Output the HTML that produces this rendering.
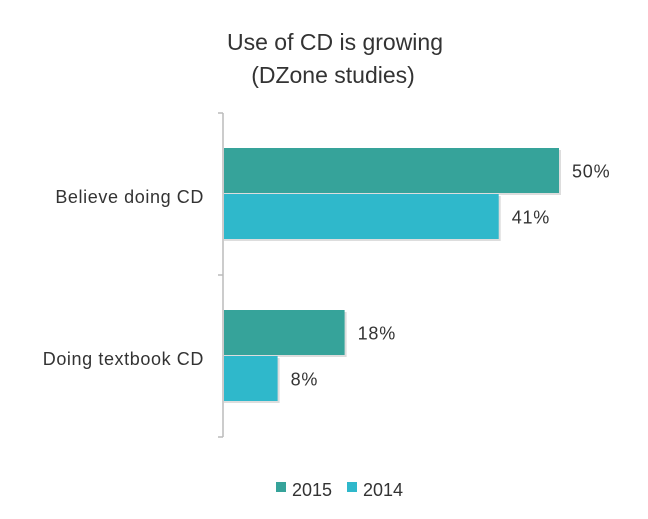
<!DOCTYPE html>
<html><head><meta charset="utf-8"><style>
body{margin:0;background:#fff;}
svg text{font-family:"Liberation Sans",sans-serif;fill:#333;}
</style></head><body>
<svg width="648" height="514">
<text x="335" y="50" text-anchor="middle" font-size="23">Use of CD is growing</text>
<text x="333" y="83" text-anchor="middle" font-size="23">(DZone studies)</text>
<g id="plot"></g>
<g>
<rect x="276" y="482" width="10" height="10" fill="#36a39a"/>
<text x="292" y="496" font-size="18">2015</text>
<rect x="347" y="482" width="10" height="10" fill="#2fb8cb"/>
<text x="363" y="496" font-size="18">2014</text>
</g>
</svg>
<script>
const categories=["Believe doing CD","Doing textbook CD"];
const series2015=[50,18];
const series2014=[41,8];
const seriesNames=["2015","2014"];
const colors=["#36a39a","#2fb8cb"];
const NS="http://www.w3.org/2000/svg";
const plotG=document.getElementById('plot');
const x0=224, pxPer=6.7, plotTop=113, bandH=162;
function xs(v){return x0+v*pxPer;}
function mk(t,a){const e=document.createElementNS(NS,t);for(const k in a)e.setAttribute(k,a[k]);plotG.appendChild(e);return e;}
let ax=mk('line',{x1:223,y1:plotTop,x2:223,y2:plotTop+bandH*2,stroke:'#bbb','stroke-width':1.5});


for(let i=0;i<=categories.length;i++){
 let t=mk('line',{x1:218,y1:plotTop+i*bandH,x2:223,y2:plotTop+i*bandH,stroke:'#bbb','stroke-width':1.5});
 
 
}
const allSeries=[series2015,series2014];
categories.forEach((c,i)=>{
 const bt=plotTop+i*bandH+35;
 let lab=mk('text',{x:204,y:bt+55,'text-anchor':'end','font-size':18,'letter-spacing':0.6});
 lab.textContent=c;
 
 
 allSeries.forEach((s,j)=>{
  const y=bt+j*46, h=45;
  let sh=mk('rect',{x:x0,y:y+2,width:xs(s[i])-x0+2,height:h,fill:'#ddd'});
  
  
  let r=mk('rect',{x:x0,y:y,width:xs(s[i])-x0,height:h,fill:colors[j]});
  
  
  let v=mk('text',{x:xs(s[i])+13,y:y+h/2+7,'font-size':18,'letter-spacing':0.8});
  v.textContent=s[i]+'%';
  
  
 });
});
</script>
</body></html>
